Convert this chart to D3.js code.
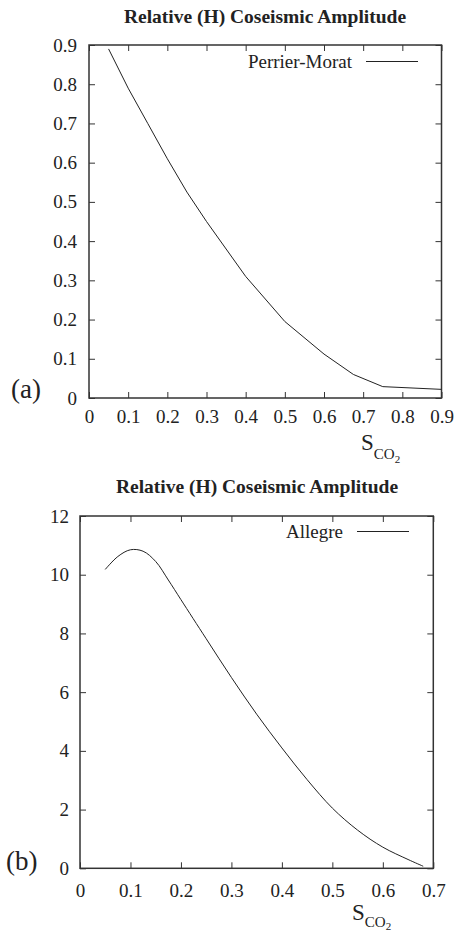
<!DOCTYPE html>
<html>
<head>
<meta charset="utf-8">
<script src="https://cdn.jsdelivr.net/npm/d3@7"></script>
<style>
body { margin: 0; background: #fff; }
</style>
</head>
<body>
<script>
var width = 455, height = 932;
var serif = "'Liberation Serif', 'Times New Roman', 'DejaVu Serif', serif";

// panel (a): Perrier-Morat
var sA = [0.05, 0.1, 0.15, 0.2, 0.25, 0.3, 0.4, 0.5, 0.6, 0.675, 0.75, 0.9];
var ampA = [0.89, 0.79, 0.70, 0.61, 0.525, 0.45, 0.31, 0.195, 0.112, 0.06, 0.029, 0.022];
var xTicksA = [0, 0.1, 0.2, 0.3, 0.4, 0.5, 0.6, 0.7, 0.8, 0.9];
var yTicksA = [0, 0.1, 0.2, 0.3, 0.4, 0.5, 0.6, 0.7, 0.8, 0.9];

// panel (b): Allegre
var sB = [0.05, 0.075, 0.1, 0.125, 0.15, 0.175, 0.2, 0.25, 0.3, 0.35, 0.4, 0.45, 0.5, 0.55, 0.6, 0.65, 0.68];
var ampB = [10.18, 10.62, 10.85, 10.8, 10.45, 9.82, 9.15, 7.82, 6.5, 5.25, 4.1, 3.02, 2.05, 1.3, 0.72, 0.3, 0.07];
var xTicksB = [0, 0.1, 0.2, 0.3, 0.4, 0.5, 0.6, 0.7];
var yTicksB = [0, 2, 4, 6, 8, 10, 12];

var title = 'Relative (H) Coseismic Amplitude';

var svg = d3.select('body').append('svg').attr('width', width).attr('height', height)
 .style('font-family', serif);

var panels = [
 {xs: sA, ys: ampA, xt: xTicksA, yt: yTicksA, xd: [0, 0.9], yd: [0, 0.9],
  l: 89, r: 441.5, t: 45, b: 398, name: 'Perrier-Morat', tag: '(a)',
  titleX: 265, titleY: 23, legX: 352, legY: 68, xPad: 11.5, yPad: 12,
  tagX: 11, tagY: 398, labX: 361, labY: 450, sub1: 9, sub2: 4, curve: d3.curveLinear},
 {xs: sB, ys: ampB, xt: xTicksB, yt: yTicksB, xd: [0, 0.7], yd: [0, 12],
  l: 80, r: 433.3, t: 516, b: 868.3, name: 'Allegre', tag: '(b)',
  titleX: 257, titleY: 493, legX: 343, legY: 538, xPad: 15, yPad: 11,
  tagX: 6, tagY: 870, labX: 352, labY: 920, sub1: 7, sub2: 3, curve: d3.curveCatmullRom}
];

panels.forEach(function(p) {
 var x = d3.scaleLinear().domain(p.xd).range([p.l, p.r]);
 var y = d3.scaleLinear().domain(p.yd).range([p.b, p.t]);
 var g = svg.append('g');

 // ticks on all four sides, pointing inward
 g.append('g').attr('transform', 'translate(0,' + p.b + ')')
  .call(d3.axisBottom(x).tickValues(p.xt).tickSize(-6).tickPadding(p.xPad).tickFormat(d3.format('')));
 g.append('g').attr('transform', 'translate(0,' + p.t + ')')
  .call(d3.axisTop(x).tickValues(p.xt).tickSize(-6).tickFormat(''));
 g.append('g').attr('transform', 'translate(' + p.l + ',0)')
  .call(d3.axisLeft(y).tickValues(p.yt).tickSize(-6).tickPadding(p.yPad).tickFormat(d3.format('')));
 g.append('g').attr('transform', 'translate(' + p.r + ',0)')
  .call(d3.axisRight(y).tickValues(p.yt).tickSize(-6).tickFormat(''));
 g.selectAll('.domain').remove();
 g.selectAll('g').attr('font-family', null).attr('font-size', null);
 g.selectAll('.tick line').attr('stroke', '#333').attr('stroke-width', 1);
 g.selectAll('.tick text').attr('fill', '#222').style('font-size', '19px')
  .style('font-family', serif);

 g.append('rect').attr('x', p.l).attr('y', p.t)
  .attr('width', p.r - p.l).attr('height', p.b - p.t)
  .attr('fill', 'none').attr('stroke', '#333').attr('stroke-width', 1.5);

 var line = d3.line().x(function(d, i) { return x(p.xs[i]); })
  .y(function(d) { return y(d); }).curve(p.curve);
 g.append('path').attr('d', line(p.ys))
  .attr('fill', 'none').attr('stroke', '#222').attr('stroke-width', 1);

 g.append('text').attr('x', p.titleX).attr('y', p.titleY)
  .attr('text-anchor', 'middle').attr('fill', '#222')
  .style('font-weight', 'bold').style('font-size', '19.5px').style('font-family', serif)
  .text(title);

 g.append('text').attr('x', p.legX).attr('y', p.legY).attr('fill', '#222')
  .attr('text-anchor', 'end').style('font-size', '19px').style('font-family', serif).text(p.name);
 g.append('line').attr('x1', p.legX + 14).attr('x2', p.legX + 66)
  .attr('y1', p.legY - 6.5).attr('y2', p.legY - 6.5)
  .attr('stroke', '#222').attr('stroke-width', 1);

 g.append('text').attr('x', p.tagX).attr('y', p.tagY).attr('fill', '#222')
  .style('font-size', '27px').style('font-family', serif).text(p.tag);

 var lab = g.append('text').attr('x', p.labX).attr('y', p.labY).attr('fill', '#222')
  .style('font-size', '23px').style('font-family', serif);
 lab.append('tspan').text('S');
 lab.append('tspan').style('font-size', '15px').attr('dy', p.sub1).text('CO');
 lab.append('tspan').style('font-size', '11px').attr('dy', p.sub2).text('2');
});
</script>
</body>
</html>
